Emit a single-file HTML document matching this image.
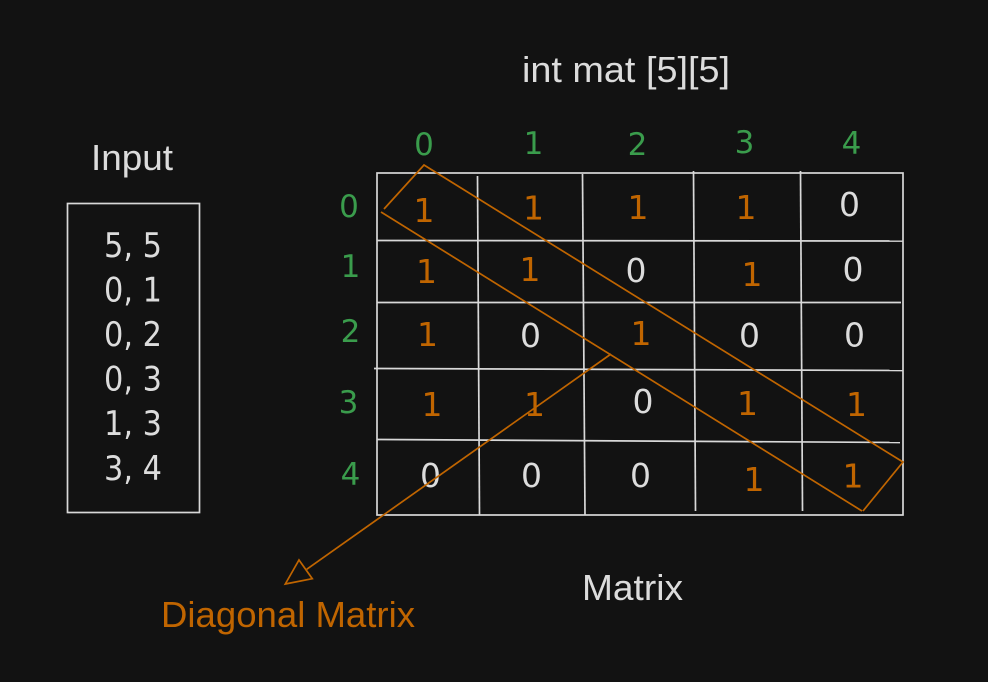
<!DOCTYPE html>
<html lang="en">
<head>
<meta charset="utf-8">
<title>Diagonal Matrix</title>
<style>
html,body{margin:0;padding:0;background:#121212;}
svg{display:block;}
.w{font-family:"Liberation Sans",sans-serif;font-size:36px;fill:#dcdcdc;}
.d{font-family:"DejaVu Sans",sans-serif;font-size:33px;text-anchor:middle;}
.z{fill:#dcdcdc;}
.o{fill:#c06500;}
.g{fill:#3a9c4c;font-size:31px;}
.i{font-family:"DejaVu Sans",sans-serif;font-size:34px;fill:#dcdcdc;}
.grid line,.grid rect{stroke:#d8d8d8;stroke-width:1.7;fill:none;}
.orange{stroke:#c06500;stroke-width:1.7;fill:none;}
</style>
</head>
<body>
<svg width="988" height="682" viewBox="0 0 988 682" xmlns="http://www.w3.org/2000/svg">
<rect width="988" height="682" fill="#121212"/>

<text class="w" x="522" y="82" textLength="208" lengthAdjust="spacingAndGlyphs">int mat [5][5]</text>
<text class="w" x="91" y="170" textLength="82" lengthAdjust="spacingAndGlyphs">Input</text>
<text class="w" x="582" y="600" textLength="101" lengthAdjust="spacingAndGlyphs">Matrix</text>
<text class="w" x="161" y="627" textLength="254" lengthAdjust="spacingAndGlyphs" style="fill:#c06500">Diagonal Matrix</text>

<rect x="67.5" y="203.5" width="132" height="309" fill="none" stroke="#d8d8d8" stroke-width="1.7"/>
<g>
<text class="i" x="104" y="257" textLength="58" lengthAdjust="spacingAndGlyphs">5, 5</text>
<text class="i" x="104" y="301.5" textLength="58" lengthAdjust="spacingAndGlyphs">0, 1</text>
<text class="i" x="104" y="346" textLength="58" lengthAdjust="spacingAndGlyphs">0, 2</text>
<text class="i" x="104" y="390.5" textLength="58" lengthAdjust="spacingAndGlyphs">0, 3</text>
<text class="i" x="104" y="435" textLength="58" lengthAdjust="spacingAndGlyphs">1, 3</text>
<text class="i" x="104" y="480" textLength="58" lengthAdjust="spacingAndGlyphs">3, 4</text>
</g>

<g class="grid">
<rect x="377" y="173" width="526" height="342"/>
<line x1="477.5" y1="176" x2="479.5" y2="515"/>
<line x1="582.5" y1="174" x2="585" y2="515"/>
<line x1="693.5" y1="171" x2="695.5" y2="511"/>
<line x1="800.5" y1="171" x2="802.5" y2="511"/>
<line x1="377" y1="240.5" x2="903" y2="241"/>
<line x1="377" y1="302.5" x2="901" y2="302.5"/>
<line x1="374" y1="368.5" x2="903" y2="370.5"/>
<line x1="377" y1="439.5" x2="900" y2="442.5"/>
</g>

<g>
<text class="d g" x="424" y="155">0</text>
<text class="d g" x="533.5" y="154">1</text>
<text class="d g" x="637.5" y="155">2</text>
<text class="d g" x="744.5" y="153">3</text>
<text class="d g" x="851.5" y="154">4</text>
</g>
<g>
<text class="d g" x="349" y="217">0</text>
<text class="d g" x="350.5" y="277">1</text>
<text class="d g" x="350.5" y="342">2</text>
<text class="d g" x="348.5" y="413">3</text>
<text class="d g" x="350.5" y="485">4</text>
</g>

<g>
<text class="d o" x="424" y="222">1</text>
<text class="d o" x="533.5" y="219.5">1</text>
<text class="d o" x="638" y="219">1</text>
<text class="d o" x="746" y="219">1</text>
<text class="d z" x="849.5" y="216">0</text>

<text class="d o" x="426.5" y="283">1</text>
<text class="d o" x="530" y="281">1</text>
<text class="d z" x="636" y="282">0</text>
<text class="d o" x="752" y="286">1</text>
<text class="d z" x="853" y="281">0</text>

<text class="d o" x="427.5" y="346">1</text>
<text class="d z" x="530.5" y="347">0</text>
<text class="d o" x="641" y="345">1</text>
<text class="d z" x="749.5" y="347">0</text>
<text class="d z" x="854.5" y="346.5">0</text>

<text class="d o" x="432" y="416">1</text>
<text class="d o" x="534.5" y="416">1</text>
<text class="d z" x="643" y="413">0</text>
<text class="d o" x="747.5" y="415">1</text>
<text class="d o" x="856.5" y="416">1</text>

<text class="d z" x="430.5" y="487">0</text>
<text class="d z" x="531.5" y="487">0</text>
<text class="d z" x="640.5" y="487">0</text>
<text class="d o" x="754" y="491">1</text>
<text class="d o" x="853" y="487.5">1</text>
</g>

<g class="orange">
<polyline points="384,209 424,165 903,462 863,511"/>
<line x1="381" y1="212" x2="862" y2="511"/>
</g>
<g class="orange">
<line x1="611" y1="354" x2="306.7" y2="569.3"/>
<polygon points="299,560 312.3,578.7 285.3,584"/>
</g>
</svg>
</body>
</html>
